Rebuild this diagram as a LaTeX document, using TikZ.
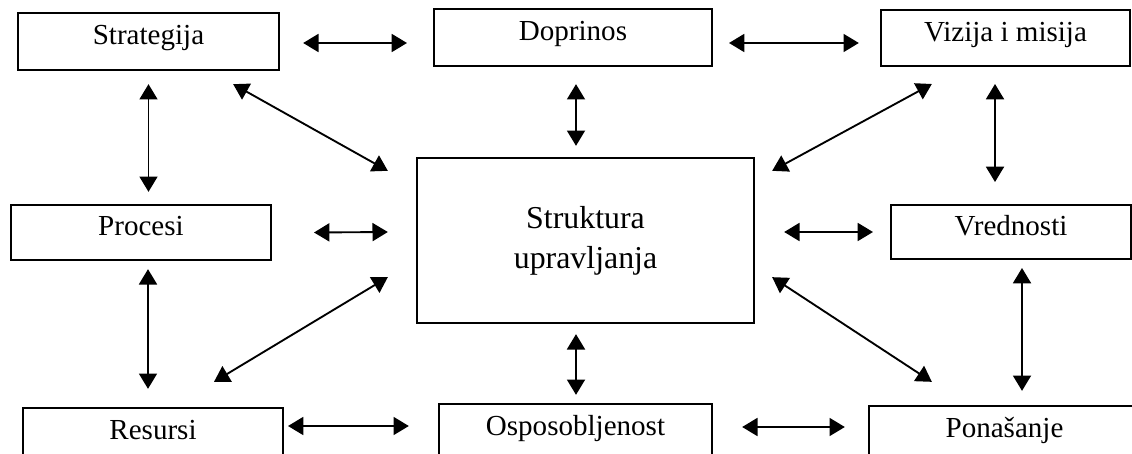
\documentclass[tikz,border=0pt]{standalone}
\usepackage{fontspec}
\setmainfont{Liberation Serif}
\usetikzlibrary{arrows.meta}

\begin{document}
\begin{tikzpicture}[x = 0.015cm, y = -0.015cm,
    box/.style = {draw, line width = 0.85pt, inner sep = 0pt,
      font = \fontsize{12.4}{14}\selectfont,
      text height = 0.4cm, text depth = 0.3cm},
    link/.style = {line width = 0.8pt,
      {Triangle[length = 0.23cm, width = 0.27cm]}-{Triangle[length = 0.23cm, width = 0.27cm]}}]
      \useasboundingbox (0, 0) rectangle (1132, 454);
      \clip (0, 0) rectangle (1132, 454);
      % top row
      \node[box, minimum width = 3.92cm, minimum height = 0.86cm] (strat) at (148.5, 41.5) {Strategija};
      \node[box, minimum width = 4.17cm, minimum height = 0.86cm] (dopr) at (573, 37.5) {Doprinos};
      \node[box, minimum width = 3.74cm, minimum height = 0.84cm] (viz) at (1005.5, 38) {Vizija i misija};
      % middle row
      \node[box, minimum width = 3.9cm, minimum height = 0.83cm] (proc) at (141, 232.5) {Procesi};
      \node[draw, line width = 0.85pt, align = center, minimum width = 5.06cm, minimum height = 2.48cm,
        font = \fontsize{13.6}{17}\selectfont] (center) at (585.5, 240.5) {Struktura\\upravljanja};
      \node[box, minimum width = 3.6cm, minimum height = 0.81cm] (vred) at (1011, 232) {Vrednosti};
      % bottom row, cut by the page edge
      \node[box, minimum width = 3.9cm, minimum height = 0.86cm] (res) at (153, 436.5) {Resursi};
      \node[box, minimum width = 4.1cm, minimum height = 0.86cm] (ospos) at (575.5, 432.5) {Osposobljenost};
      \node[box, minimum width = 4.07cm, minimum height = 0.86cm] (pon) at (1004.5, 434.5) {Ponašanje};
      % links along the rows
      \draw[link] ([shift = {(23, 1.5)}]strat.east) -- ([shift = {(-26, 5.5)}]dopr.west);
      \draw[link] ([shift = {(16, 5.5)}]dopr.east) -- ([shift = {(-21, 5)}]viz.west);
      \draw[link] ([shift = {(42, 0)}]proc.east) -- ([shift = {(-28, -8.5)}]center.west);
      \draw[link] ([shift = {(29, -8.5)}]center.east) -- ([shift = {(-17, 0)}]vred.west);
      \draw[link] ([shift = {(4, -10.5)}]res.east) -- ([shift = {(-29, -6.5)}]ospos.west);
      \draw[link] ([shift = {(29, -5.5)}]ospos.east) -- ([shift = {(-23, -7.5)}]pon.west);
      % links down the columns
      \draw[link] ([shift = {(0, 13)}]strat.south) -- ([shift = {(7.5, -12)}]proc.north);
      \draw[link] ([shift = {(7, 8)}]proc.south) -- ([shift = {(-5, -18)}]res.north);
      \draw[link] ([shift = {(3, 17)}]dopr.south) -- ([shift = {(-9.5, -11)}]center.north);
      \draw[link] ([shift = {(-9.5, 10)}]center.south) -- ([shift = {(0.5, -8)}]ospos.north);
      \draw[link] ([shift = {(-10.5, 17)}]viz.south) -- ([shift = {(-16, -22)}]vred.north);
      \draw[link] ([shift = {(11, 8)}]vred.south) -- ([shift = {(17.5, -14)}]pon.north);
      % diagonal links to the corners
      \draw[link] ([shift = {(-47, 13)}]strat.south east) -- ([shift = {(-28, 14)}]center.north west);
      \draw[link] ([shift = {(52, 17)}]viz.south west) -- ([shift = {(17, 14)}]center.north east);
      \draw[link] ([shift = {(-28, -47)}]center.south west) -- ([shift = {(-70, -25)}]res.north east);
      \draw[link] ([shift = {(17, -47)}]center.south east) -- ([shift = {(64, -23)}]pon.north west);
    \end{tikzpicture}
\end{document}
